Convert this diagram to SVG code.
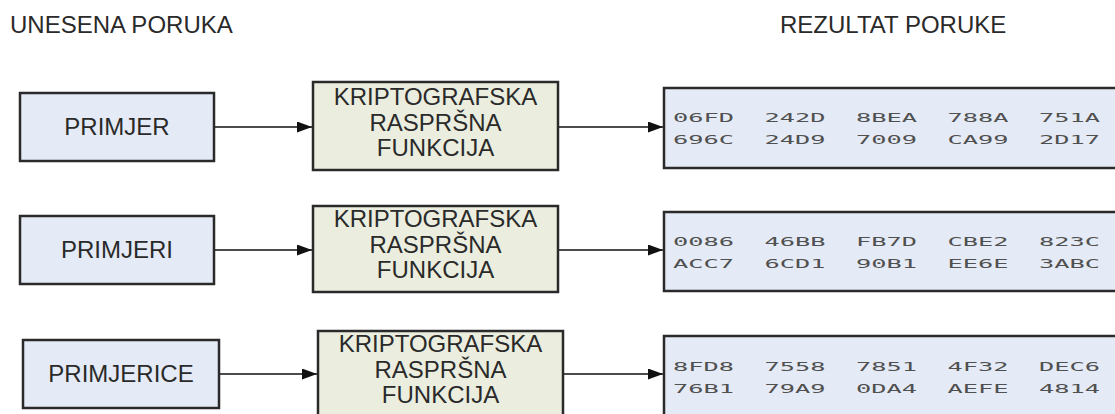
<svg xmlns="http://www.w3.org/2000/svg" width="1115" height="414" viewBox="0 0 1115 414">
<style>
.title{font-family:"Liberation Sans",Arial,sans-serif;font-size:24px;fill:#2a2a2a}
.lbl{font-family:"Liberation Sans",Arial,sans-serif;font-size:24px;fill:#2a2a2a;text-anchor:middle}
.in{fill:#e5ebf6;stroke:#2a2a2a;stroke-width:2.5}
.fn{fill:#ebeedf;stroke:#2a2a2a;stroke-width:2.5}
.out{fill:#e5ebf6;stroke:#2a2a2a;stroke-width:2.5}
.hash{font-family:"DejaVu Sans Mono",monospace;font-size:13px;fill:#505050;white-space:pre}
.conn{stroke:#111;stroke-width:1.5;fill:none;marker-end:url(#arr)}
</style>
<defs>
<marker id="arr" markerWidth="15" markerHeight="11" refX="15" refY="5.5" orient="auto" markerUnits="userSpaceOnUse">
<path d="M0,0 L15,5.5 L0,11 Z" fill="#111"/>
</marker>
</defs>
<rect width="1115" height="414" fill="#fff"/>
<text class="title" x="10" y="33">UNESENA PORUKA</text>
<text class="title" x="780" y="33">REZULTAT PORUKE</text>

<g id="connectors">
<line class="conn" x1="214" y1="127" x2="312" y2="127"/>
<line class="conn" x1="558" y1="127" x2="663" y2="127"/>
<line class="conn" x1="214" y1="250" x2="312" y2="250"/>
<line class="conn" x1="558" y1="250" x2="663" y2="250"/>
<line class="conn" x1="219" y1="374" x2="317" y2="374"/>
<line class="conn" x1="563" y1="374" x2="663" y2="374"/>
</g>

<g id="in1"><rect class="in" x="20" y="93" width="194" height="68"/><text class="lbl" x="117" y="135">PRIMJER</text></g>
<g id="fn1"><rect class="fn" x="313" y="82" width="245" height="88"/>
<text class="lbl" x="435.5" y="105">KRIPTOGRAFSKA</text><text class="lbl" x="435.5" y="131">RASPRŠNA</text><text class="lbl" x="435.5" y="156">FUNKCIJA</text></g>
<g id="out1"><rect class="out" x="664" y="88" width="470" height="80"/>
<text class="hash" transform="translate(673,122) scale(1.95,1)">06FD  242D  8BEA  788A  751A</text>
<text class="hash" transform="translate(673,144) scale(1.95,1)">696C  24D9  7009  CA99  2D17</text></g>

<g id="in2"><rect class="in" x="20" y="216" width="194" height="68"/><text class="lbl" x="117" y="258">PRIMJERI</text></g>
<g id="fn2"><rect class="fn" x="313" y="206" width="245" height="86"/>
<text class="lbl" x="435.5" y="227">KRIPTOGRAFSKA</text><text class="lbl" x="435.5" y="253">RASPRŠNA</text><text class="lbl" x="435.5" y="278">FUNKCIJA</text></g>
<g id="out2"><rect class="out" x="664" y="212" width="470" height="79"/>
<text class="hash" transform="translate(673,246) scale(1.95,1)">0086  46BB  FB7D  CBE2  823C</text>
<text class="hash" transform="translate(673,268) scale(1.95,1)">ACC7  6CD1  90B1  EE6E  3ABC</text></g>

<g id="in3"><rect class="in" x="23" y="340" width="196" height="68"/><text class="lbl" x="121" y="382">PRIMJERICE</text></g>
<g id="fn3"><rect class="fn" x="318" y="331" width="245" height="95"/>
<text class="lbl" x="440.5" y="352">KRIPTOGRAFSKA</text><text class="lbl" x="440.5" y="378">RASPRŠNA</text><text class="lbl" x="440.5" y="403">FUNKCIJA</text></g>
<g id="out3"><rect class="out" x="664" y="336" width="470" height="90"/>
<text class="hash" transform="translate(673,371) scale(1.95,1)">8FD8  7558  7851  4F32  DEC6</text>
<text class="hash" transform="translate(673,393) scale(1.95,1)">76B1  79A9  0DA4  AEFE  4814</text></g>
</svg>
